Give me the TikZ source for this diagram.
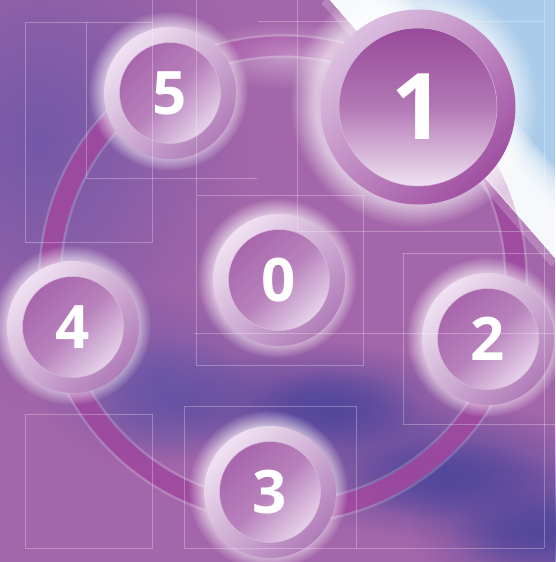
\documentclass[tikz,border=0pt]{standalone}
\usepackage{fontspec}
\newfontfamily\numfont{Open Sans}
\usetikzlibrary{fadings}

\definecolor{bgpurple}{HTML}{A466AA}
\definecolor{bgviolet}{HTML}{7458A7}
\definecolor{bgdusk}{HTML}{6654A4}
\definecolor{bgdeep}{HTML}{54489C}
\definecolor{skyblue}{HTML}{AACBEA}
\definecolor{ringpurple}{HTML}{9C469E}
\definecolor{rimlight}{HTML}{F0E2F2}
\definecolor{rimdark}{HTML}{B07CB8}
\definecolor{facedark}{HTML}{A866AC}
\definecolor{facelight}{HTML}{E6D2EA}
\definecolor{bigrimlight}{HTML}{DCC0E0}
\definecolor{bigrimdark}{HTML}{A050A2}
\definecolor{bigfacedark}{HTML}{984A9A}
\definecolor{bigfacelight}{HTML}{F0E2F2}

\tikzfading[name=haze, inner color=transparent!0, outer color=transparent!100]

\tikzset{
  rim/.style={circle, inner sep=0pt, minimum size=132pt,
    top color=rimlight, bottom color=rimdark, shading angle=45},
  face/.style={circle, inner sep=0pt, minimum size=101pt,
    draw=white!55!facedark, line width=0.5pt,
    top color=facedark, bottom color=facelight,
    middle color=facedark!75!facelight, shading angle=45,
    text=white, font=\numfont\bfseries\fontsize{60}{60}\selectfont},
  bigrim/.style={rim, minimum size=195pt,
    top color=bigrimlight, bottom color=bigrimdark, shading angle=45},
  bigface/.style={face, minimum size=158pt,
    top color=bigfacedark, bottom color=bigfacelight,
    middle color=bigfacedark!70!bigfacelight,
    font=\numfont\bfseries\fontsize{92}{92}\selectfont},
  glow/.style={white, opacity=0.6, path fading=circle with fuzzy edge 20 percent},
  grid/.style={white, opacity=0.28, line width=0.6pt},
}

\begin{document}
\begin{tikzpicture}[x=1pt,y=-1pt]
\useasboundingbox (0,0) rectangle (555,562);
% background
\fill[bgpurple] (0,0) rectangle (555,562);
\fill[bgviolet, path fading=haze] (40,140) ellipse (210 and 270);
\fill[bgviolet, path fading=haze] (160,380) ellipse (130 and 90);
\fill[bgdusk, path fading=haze] (170,400) ellipse (90 and 60);
\fill[bgdeep, path fading=haze] (320,405) ellipse (150 and 65);
\fill[bgdeep, path fading=haze] (330,410) ellipse (90 and 40);
\fill[bgdeep, path fading=haze] (440,470) ellipse (170 and 70);
\fill[bgdeep, path fading=haze] (450,480) ellipse (100 and 40);
\fill[bgdeep, path fading=haze] (550,530) ellipse (140 and 75);
\fill[bgdeep, path fading=haze] (530,530) ellipse (80 and 40);
\fill[bgpurple, path fading=haze] (270,580) ellipse (130 and 55);

% the ring
\coordinate (hub) at (283,279);
\draw[white, opacity=0.18, line width=24] (hub) circle (233);
\draw[ringpurple, opacity=0.9, line width=19] (hub) circle (233);

% sky in the corner
\begin{scope}
\clip (330,0) -- (555,0) -- (555,258) -- cycle;
\fill[skyblue] (330,0) rectangle (555,258);
\foreach \w in {60,66,...,120}
  \draw[white, opacity=0.2, line width=\w] (300,-34) -- (585,293);
\draw[ringpurple!35!white, opacity=0.8, line width=19] (hub) circle (233);
\end{scope}
\draw[white, opacity=0.2, line width=10] (325,0) -- (555,263);
\fill[white, opacity=0.35, path fading=haze] (290,55) ellipse (100 and 35);

% small discs
\fill[glow] (168,91) circle (80);
\node[rim] (c5) at (170,93) {};
\node[face] (d5) at (c5) {5};

\fill[glow] (277,278) circle (80);
\node[rim] (c0) at (279,280) {};
\node[face] (d0) at (c0) {0};

\fill[glow] (71,325) circle (80);
\node[rim] (c4) at (73,327) {};
\node[face] (d4) at (c4) {4};

\fill[glow] (486,337) circle (80);
\node[rim] (c2) at (488,339) {};
\node[face] (d2) at (c2) {2};

\fill[glow] (268,490) circle (80);
\node[rim] (c3) at (270,492) {};
\node[face] (d3) at (c3) {3};

% faint frames
\draw[grid] (25,22) rectangle (152,242);
\draw[grid] (152,0) -- (152,22);
\draw[grid] (86,22) -- (86,178) -- (257,178);
\draw[grid] (196,0) -- (196,365) -- (363,365) -- (363,195) -- (196,195);
\draw[grid] (194,333) -- (555,333);
\draw[grid] (297,0) -- (297,231) -- (555,231);
\draw[grid] (258,21) -- (544,21);
\draw[grid] (544,0) -- (544,548);
\draw[grid] (403,253) -- (555,253);
\draw[grid] (403,253) -- (403,424) -- (555,424);
\draw[grid] (25,414) rectangle (152,548);
\draw[grid] (184,406) rectangle (356,548);
\draw[grid] (356,548) -- (544,548);

% the big disc
\fill[glow] (414,103) circle (124);
\node[bigrim] (c1) at (418,107) {};
\node[bigface] (d1) at (c1) {1};
\end{tikzpicture}
\end{document}
